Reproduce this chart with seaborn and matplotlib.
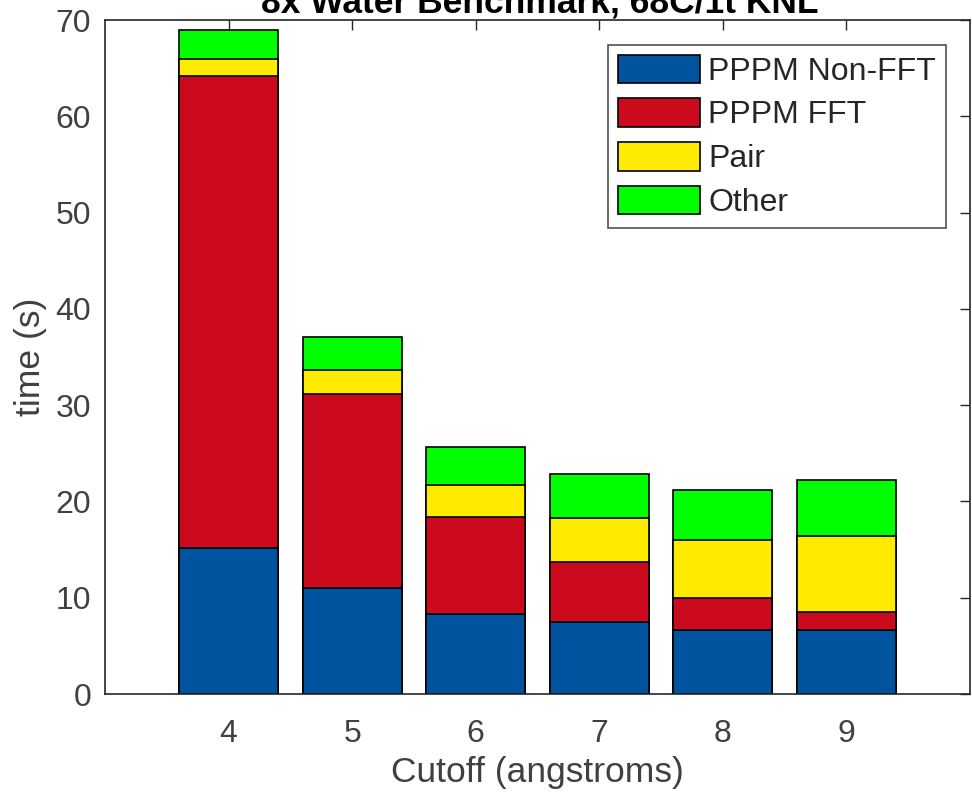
import numpy as np
import pandas as pd
import matplotlib
matplotlib.use("Agg")
import matplotlib.pyplot as plt
import seaborn as sns
from matplotlib.patches import Patch

cutoffs = ["4", "5", "6", "7", "8", "9"]
pppm_nonfft = [15.2, 11.0, 8.3, 7.5, 6.6, 6.6]
pppm_fft = [49.0, 20.2, 10.1, 6.2, 3.4, 1.9]
pair = [1.8, 2.5, 3.3, 4.6, 6.0, 7.9]
other = [3.0, 3.4, 4.0, 4.55, 5.2, 5.8]

series_names = ["PPPM Non-FFT", "PPPM FFT", "Pair", "Other"]
series_colors = ["#00539F", "#CC0A1E", "#FFEB00", "#00FF00"]

sns.set_theme(style="white")
plt.rcParams["font.family"] = ["Liberation Sans", "DejaVu Sans"]
text_col = "#262626"
tick_col = "#404040"

df = pd.DataFrame({
    "cutoff": cutoffs,
    "PPPM Non-FFT": pppm_nonfft,
    "PPPM FFT": pppm_fft,
    "Pair": pair,
    "Other": other,
})
# cumulative heights for stacking (tallest drawn first, smaller ones on top)
cum = df[series_names].cumsum(axis=1)

fig = plt.figure(figsize=(9.72, 7.98), dpi=100)
ax = fig.add_axes([105 / 972, 1 - 694 / 798, 865 / 972, 674 / 798])

for name, color in reversed(list(zip(series_names, series_colors))):
    sns.barplot(x=df["cutoff"], y=cum[name], color=color, width=0.8,
                edgecolor="black", linewidth=1.2, saturation=1, ax=ax)

ax.set_xlim(-1, 6)
ax.set_ylim(0, 70)
ax.set_yticks(range(0, 71, 10))
ax.set_xlabel("Cutoff (angstroms)", fontsize=25.5, color=tick_col, labelpad=5)
ax.set_ylabel("time (s)", fontsize=25.5, color=tick_col, labelpad=6)
ax.tick_params(axis="both", which="both", direction="in", length=7, width=1,
               color=text_col, labelsize=23, labelcolor=tick_col,
               top=True, right=True)
ax.tick_params(axis="y", pad=10)
ax.tick_params(axis="x", pad=18)
for sp in ax.spines.values():
    sp.set_color(text_col)
    sp.set_linewidth(1.2)

handles = [Patch(facecolor=c, edgecolor="black", linewidth=1.2, label=n)
           for n, c in zip(series_names, series_colors)]
leg = ax.legend(handles=handles, loc="upper right", bbox_to_anchor=(0.972, 0.963),
                fontsize=23, frameon=True, fancybox=False, handlelength=2.55,
                handleheight=1.0, handletextpad=0.28, labelspacing=0.36,
                borderpad=0.3, borderaxespad=0)
leg.get_frame().set_edgecolor(text_col)
leg.get_frame().set_linewidth(1.2)
for t in leg.get_texts():
    t.set_color(text_col)

fig.text(540 / 972, 1 - 12 / 798, "8x Water Benchmark, 68C/1t KNL",
         ha="center", va="baseline", fontsize=25.5, fontweight="bold", color="black")

fig.savefig("out.png", dpi=100)
